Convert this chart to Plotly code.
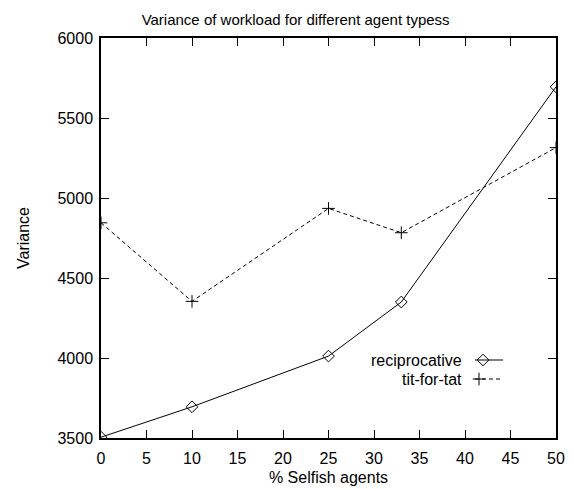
import plotly.graph_objects as go

# Percentage of selfish agents in the population
selfish_pct = [0, 10, 25, 33, 50]

# Variance of workload for each agent type
reciprocative = [3505, 3695, 4012, 4350, 5695]
tit_for_tat = [4845, 4354, 4935, 4783, 5315]

x_ticks = list(range(0, 55, 5))
y_ticks = list(range(3500, 6500, 500))

FONT = "Liberation Sans, Arial, Helvetica, sans-serif"

fig = go.Figure()

fig.add_trace(go.Scatter(
    x=selfish_pct, y=reciprocative, name="reciprocative",
    mode="lines+markers",
    line=dict(color="black", width=1),
    marker=dict(symbol="diamond-open", size=9, color="black", line=dict(width=1)),
    showlegend=False,
))
fig.add_trace(go.Scatter(
    x=selfish_pct, y=tit_for_tat, name="tit-for-tat",
    mode="lines+markers",
    line=dict(color="black", width=1, dash="4px,3px"),
    marker=dict(symbol="cross-thin-open", size=9, color="black", line=dict(width=1, color="black")),
    showlegend=False,
))

# gnuplot-style key: label on the left, line sample on the right.
# Drawn on an overlay axis measured in canvas pixels.
key_rows = [
    ("reciprocative", 360, "solid", "diamond-open", 483),
    ("tit-for-tat", 379, "4px,3px", "cross-thin-open", 479),
]
for label, row_y, dash, symbol, mx in key_rows:
    fig.add_trace(go.Scatter(
        x=[475, 503], y=[row_y, row_y], xaxis="x2", yaxis="y2",
        mode="lines", line=dict(color="black", width=1, dash=dash),
        showlegend=False, hoverinfo="skip",
    ))
    fig.add_trace(go.Scatter(
        x=[mx], y=[row_y], xaxis="x2", yaxis="y2",
        mode="markers",
        marker=dict(symbol=symbol, size=9, color="black", line=dict(width=1, color="black")),
        showlegend=False, hoverinfo="skip",
    ))
    fig.add_annotation(
        x=464, y=row_y, xref="x2", yref="y2", text=label,
        showarrow=False, xanchor="right", yanchor="middle",
        font=dict(family=FONT, size=16, color="black"),
    )

axis_common = dict(
    showgrid=False, zeroline=False, automargin=False,
    showline=True, linecolor="black", linewidth=1.5,
    mirror="allticks", ticks="inside", ticklen=8, tickwidth=1, tickcolor="black",
    tickfont=dict(family=FONT, size=16, color="black"),
)

fig.update_layout(
    width=574, height=489,
    margin=dict(l=101, r=18, t=38, b=51),
    paper_bgcolor="white", plot_bgcolor="white",
    title=dict(
        text="Variance of workload for different agent typess",
        x=0.515, xanchor="center", xref="container",
        y=0.959, yanchor="middle", yref="container",
        font=dict(family=FONT, size=15, color="black"),
    ),
    xaxis=dict(
        range=[0, 50], tickvals=x_ticks, ticklabelstandoff=5,
        title=dict(text="% Selfish agents", standoff=6,
                   font=dict(family=FONT, size=16, color="black")),
        **axis_common,
    ),
    yaxis=dict(
        range=[3500, 6000], tickvals=y_ticks, ticklabelstandoff=3,
        title=dict(text="Variance", standoff=24,
                   font=dict(family=FONT, size=16, color="black")),
        **axis_common,
    ),
    xaxis2=dict(overlaying="x", range=[101, 556], visible=False, fixedrange=True),
    yaxis2=dict(overlaying="y", range=[438, 38], visible=False, fixedrange=True),
    showlegend=False,
)

fig.write_html("out.html")
